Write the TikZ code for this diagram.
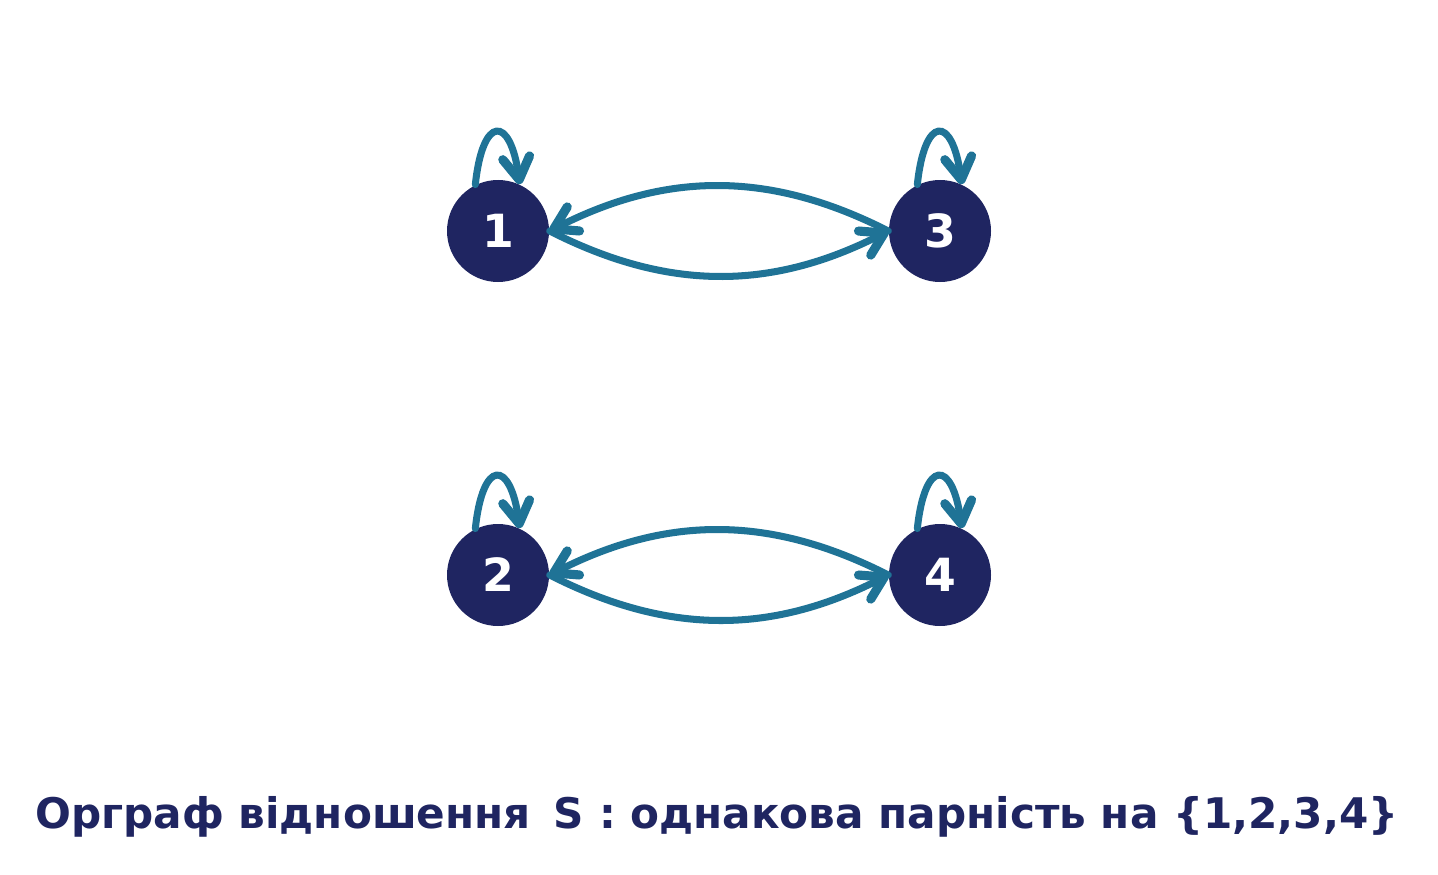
\documentclass[tikz,border=0pt]{standalone}
\usepackage{fontspec}
\setmainfont{DejaVu Sans}
\usetikzlibrary{arrows.meta}
\definecolor{vertexblue}{HTML}{1F2561}
\definecolor{arcteal}{HTML}{1F7396}
\tikzset{
  vertex/.style={circle,fill=vertexblue,draw=none,minimum size=1.02cm,inner sep=0pt,
    text=white,font=\bfseries\fontsize{13}{15}\selectfont},
  arc/.style={draw=arcteal,line width=2pt,line cap=round,
    -{Straight Barb[length=0.22cm,width=0.27cm,line width=2.6pt,line cap=round,line join=round]}},
}
\begin{document}
\begin{tikzpicture}
\useasboundingbox (0,0) rectangle (14.38,8.74);
\node[vertex] (v1) at (4.98,6.43) {1};
\node[vertex] (v3) at (9.40,6.43) {3};
\node[vertex] (v2) at (4.98,2.99) {2};
\node[vertex] (v4) at (9.40,2.99) {4};
% arcs between vertices
\draw[arc] (v1.east) to[bend right=27] (v3.west);
\draw[arc] (v3.west) to[bend right=27] (v1.east);
\draw[arc] (v2.east) to[bend right=27] (v4.west);
\draw[arc] (v4.west) to[bend right=27] (v2.east);
% loops
\foreach \v in {v1,v2,v3,v4}
  \draw[arc] (\v.116) .. controls +(84:0.7) and +(98:0.7) .. (\v.65);
\node[text=vertexblue,font=\bfseries\fontsize{12}{14}\selectfont] (title) at (7.17,0.57)
  {Орграф відношення\hspace{0.55em}S : однакова парність на \{1,2,3,4\}};
\end{tikzpicture}
\end{document}
